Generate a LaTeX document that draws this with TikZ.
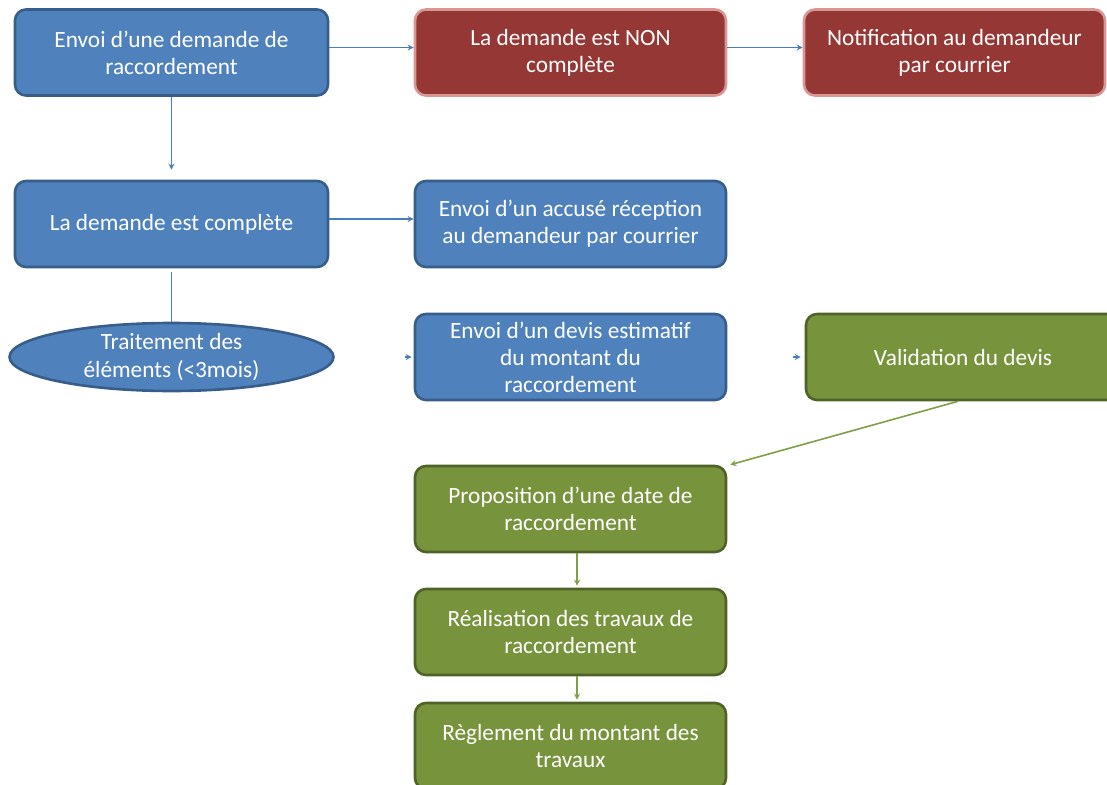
\documentclass[tikz,border=0pt]{standalone}
\usepackage{fontspec}
\setmainfont{Carlito}
\usetikzlibrary{shapes.geometric,arrows.meta}
\definecolor{bfill}{HTML}{4F81BD}
\definecolor{bdraw}{HTML}{385D8A}
\definecolor{rfill}{HTML}{953735}
\definecolor{rdraw}{HTML}{D99694}
\definecolor{gfill}{HTML}{77933C}
\definecolor{gdraw}{HTML}{4F6228}
\definecolor{barrow}{HTML}{4A7EBB}
\definecolor{garrow}{HTML}{7F9E45}
\tikzset{
  box/.style={rectangle, rounded corners=11pt, line width=2.6pt, minimum width=311pt, minimum height=86pt, inner sep=0pt, align=center, text=white, font=\fontsize{23.3}{27}\selectfont},
  bluebox/.style={box, fill=bfill, draw=bdraw},
  redbox/.style={box, fill=rfill, draw=rdraw},
  greenbox/.style={box, fill=gfill, draw=gdraw},
  blueell/.style={ellipse, fill=bfill, draw=bdraw, line width=2.6pt, minimum width=324pt, minimum height=68pt, inner sep=0pt, align=center, text=white, font=\fontsize{23.3}{28}\selectfont},
  barr/.style={draw=barrow, line width=1.6pt, -{Stealth[length=6pt,width=6pt]}},
  bline/.style={draw=barrow, line width=1.6pt},
  garr/.style={draw=garrow, line width=1.6pt, -{Stealth[length=6pt,width=6pt]}},
}
\begin{document}
\begin{tikzpicture}[x=1pt,y=-1pt]
\useasboundingbox (0,0) rectangle (1107,784);
\clip (0,0) rectangle (1107,784);
\node[bluebox, minimum width=313pt] (A) at (171.5,52.5) {Envoi d’une demande de\\raccordement};
\node[redbox] (B) at (570.5,52.5) {La demande est NON\\complète};
\node[redbox, minimum width=301pt] (C) at (954.5,52.5) {Notification au demandeur\\par courrier};
\node[bluebox, minimum width=313pt] (D) at (171.5,224) {La demande est complète};
\node[blueell] (F) at (171.5,357) {Traitement des\\éléments (<3mois)};
\node[bluebox] (E) at (570.5,224) {Envoi d’un accusé réception\\au demandeur par courrier};
\node[bluebox] (G) at (570.5,357) {Envoi d’un devis estimatif\\du montant du\\raccordement};
\node[greenbox, minimum width=314pt] (H) at (963,357) {Validation du devis};
\node[greenbox] (I) at (570.5,509) {Proposition d’une date de\\raccordement};
\node[greenbox] (J) at (570.5,632) {Réalisation des travaux de\\raccordement};
\node[greenbox] (K) at (570.5,746) {Règlement du montant des\\travaux};
% connectors
\draw[barr] ([yshift=5pt]A.east) -- ([yshift=5pt]B.west);
\draw[barr] ([yshift=5pt]B.east) -- ([yshift=5pt]C.west);
\draw[barr, shorten >=10pt] (A.south) -- (D.north);
\draw[barr] ([yshift=5pt]D.east) -- ([yshift=5pt]E.west);
\draw[bline, shorten <=4pt] (D.south) -- (F.north);
\coordinate (fg) at ([xshift=-9pt]G.west);
\draw[barr, shorten >=2pt] (fg) -- (G.west);
\coordinate (gh) at ([xshift=-12pt]H.west);
\draw[barr, shorten >=2pt] (gh) -- ([xshift=-2pt]H.west);
\draw[garr] ([xshift=-5pt]H.south) -- ([xshift=3pt]I.north east);
\draw[garr, shorten >=2pt] ([xshift=6.5pt]I.south) -- ([xshift=6.5pt]J.north);
\draw[garr, shorten >=2pt] ([xshift=6.5pt]J.south) -- ([xshift=6.5pt]K.north);
\end{tikzpicture}
\end{document}
